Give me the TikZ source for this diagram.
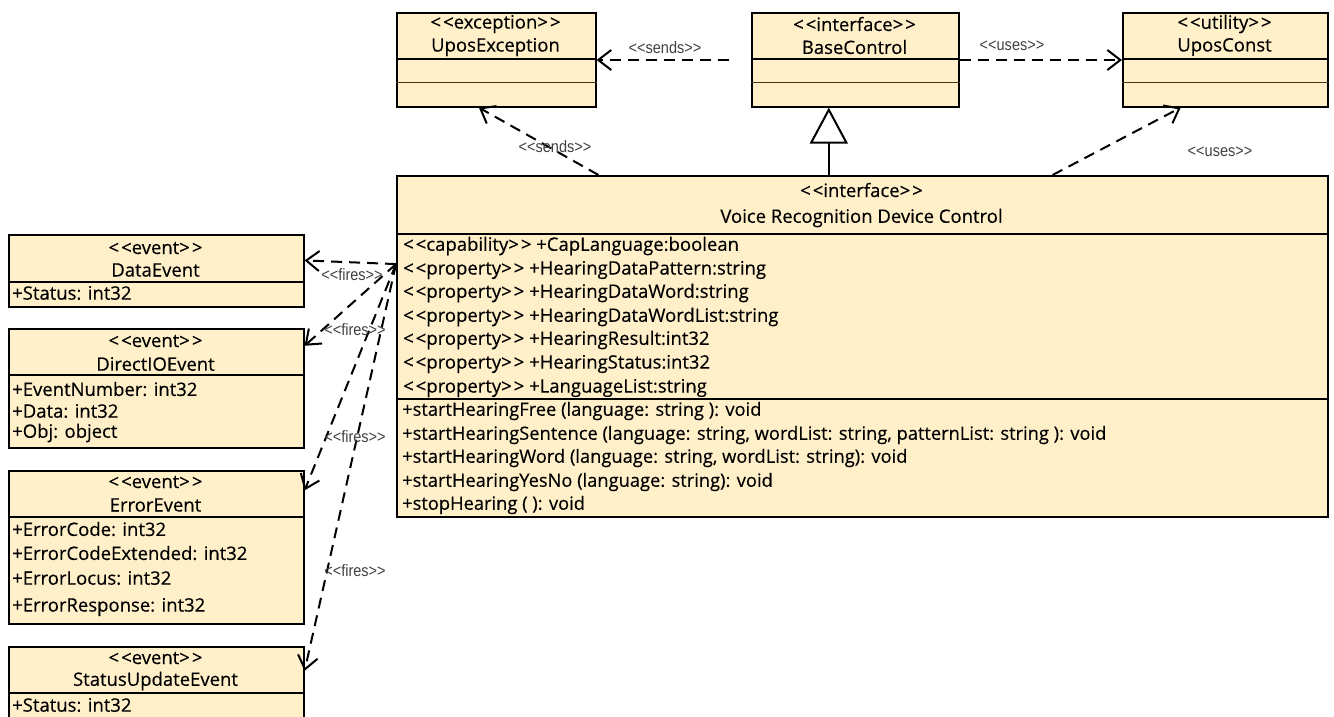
\documentclass[tikz,border=0pt]{standalone}
\usepackage{fontspec}
\setmainfont{Open Sans}[FakeBold=0.35]
\newfontfamily\edgefont{Liberation Sans}[FakeStretch=0.88]
\usetikzlibrary{arrows.meta}
\definecolor{classfill}{RGB}{255,240,201}
\newcommand{\stereo}[1]{<\kern2pt<#1>\kern2pt>}
\newcommand{\edgestereo}[1]{<{}<#1>{}>}
\tikzset{
    classbox/.style={rectangle, draw, line width=1.6pt, fill=classfill, inner sep=0pt, anchor=north west},
    title/.style={inner sep=0pt, font=\fontsize{18.5}{21}\selectfont},
    attr/.style={inner sep=0pt, anchor=west, font=\fontsize{18.5}{21}\selectfont},
    oper/.style={inner sep=0pt, anchor=west, font=\fontsize{18.3}{21}\selectfont},
    sepline/.style={line width=1.1pt},
    lowline/.style={line width=0.9pt, draw=black!60!brown},
    dep/.style={line width=2pt, dash pattern=on 11pt off 7pt, -{Straight Barb[length=13pt,width=20pt]}},
    gen/.style={line width=2pt, -{Triangle[length=36pt,width=38pt,open,fill=white]}},
    elabel/.style={inner sep=0pt, text=black!75, font=\edgefont\fontsize{16.5}{18}\selectfont}
}
\begin{document}
\begin{tikzpicture}[x=1pt,y=-1pt]
        \useasboundingbox (0,0) rectangle (1334,716);
        % top row
        \node (ue) [classbox, minimum width=199pt, minimum height=94pt] at (396,12) {};
        \node (ue1) [title] at (495.5,24) {\stereo{exception}};
        \node (ue2) [title] at (495.5,47) {UposException};
        \draw [sepline] ([yshift=-47pt]ue.north west) -- ([yshift=-47pt]ue.north east);
        \draw [lowline] ([yshift=-70pt]ue.north west) -- ([yshift=-70pt]ue.north east);
        \node (bc) [classbox, minimum width=207pt, minimum height=94pt] at (751,12) {};
        \node (bc1) [title] at (854.5,24) {\stereo{interface}};
        \node (bc2) [title] at (854.5,47) {BaseControl};
        \draw [sepline] ([yshift=-47pt]bc.north west) -- ([yshift=-47pt]bc.north east);
        \draw [lowline] ([yshift=-70pt]bc.north west) -- ([yshift=-70pt]bc.north east);
        \node (uc) [classbox, minimum width=205pt, minimum height=94pt] at (1122,12) {};
        \node (uc1) [title] at (1224.5,24) {\stereo{utility}};
        \node (uc2) [title] at (1224.5,47) {UposConst};
        \draw [sepline] ([yshift=-47pt]uc.north west) -- ([yshift=-47pt]uc.north east);
        \draw [lowline] ([yshift=-70pt]uc.north west) -- ([yshift=-70pt]uc.north east);
        % main interface
        \node (vr) [classbox, minimum width=931pt, minimum height=341pt] at (396,175) {};
        \node (vr1) [title] at (861.5,190) {\stereo{interface}};
        \node (vr2) [title] at (861.5,218) {Voice Recognition Device Control};
        \draw [sepline] ([yshift=-59pt]vr.north west) -- ([yshift=-59pt]vr.north east);
        \draw [sepline] ([yshift=-224pt]vr.north west) -- ([yshift=-224pt]vr.north east);
        \node (a1) [attr] at (403,246) {\stereo{capability} +CapLanguage:boolean};
        \node (a2) [attr] at (403,270) {\stereo{property} +HearingDataPattern:string};
        \node (a3) [attr] at (403,293) {\stereo{property} +HearingDataWord:string};
        \node (a4) [attr] at (403,317) {\stereo{property} +HearingDataWordList:string};
        \node (a5) [attr] at (403,340) {\stereo{property} +HearingResult:int32};
        \node (a6) [attr] at (403,364) {\stereo{property} +HearingStatus:int32};
        \node (a7) [attr] at (403,388) {\stereo{property} +LanguageList:string};
        \node (m1) [oper] at (402,411) {+startHearingFree (language: string ): void};
        \node (m2) [oper] at (402,435) {+startHearingSentence (language: string, wordList: string, patternList: string ): void};
        \node (m3) [oper] at (402,458) {+startHearingWord (language: string, wordList: string): void};
        \node (m4) [oper] at (402,482) {+startHearingYesNo (language: string): void};
        \node (m5) [oper] at (402,505) {+stopHearing ( ): void};
        % events
        \node (de) [classbox, minimum width=295pt, minimum height=72pt] at (8,234) {};
        \node (de1) [title] at (155.5,248) {\stereo{event}};
        \node (de2) [title] at (155.5,270) {DataEvent};
        \draw [sepline] ([yshift=-48pt]de.north west) -- ([yshift=-48pt]de.north east);
        \node (de3) [attr] at (12,293) {+Status: int32};
        \node (dio) [classbox, minimum width=295pt, minimum height=119pt] at (8,328) {};
        \node (dio1) [title] at (155.5,341) {\stereo{event}};
        \node (dio2) [title] at (155.5,364) {DirectIOEvent};
        \draw [sepline] ([yshift=-47pt]dio.north west) -- ([yshift=-47pt]dio.north east);
        \node (dio3) [attr] at (12,389) {+EventNumber: int32};
        \node (dio4) [attr] at (12,411) {+Data: int32};
        \node (dio5) [attr] at (12,433) {+Obj: object};
        \node (ee) [classbox, minimum width=295pt, minimum height=153pt] at (8,470) {};
        \node (ee1) [title] at (155.5,482) {\stereo{event}};
        \node (ee2) [title] at (155.5,505) {ErrorEvent};
        \draw [sepline] ([yshift=-47pt]ee.north west) -- ([yshift=-47pt]ee.north east);
        \node (ee3) [attr] at (12,529) {+ErrorCode: int32};
        \node (ee4) [attr] at (12,553) {+ErrorCodeExtended: int32};
        \node (ee5) [attr] at (12,578) {+ErrorLocus: int32};
        \node (ee6) [attr] at (12,607) {+ErrorResponse: int32};
        \node (su) [classbox, minimum width=295pt, minimum height=74pt] at (8,646) {};
        \node (su1) [title] at (155.5,658) {\stereo{event}};
        \node (su2) [title] at (155.5,681) {StatusUpdateEvent};
        \draw [sepline] ([yshift=-47pt]su.north west) -- ([yshift=-47pt]su.north east);
        \node (su3) [attr] at (12,705) {+Status: int32};
        % connectors
        \draw [gen] ([xshift=-33.5pt]vr.north) -- ([xshift=-26.5pt]bc.south);
        \draw [dep, shorten <=22pt] (bc.west |- 0,60) -- (ue.east |- 0,60);
        \draw [dep] (bc.east |- 0,60) -- (uc.west |- 0,60);
        \draw [dep] (vr.147.2) -- (ue.250);
        \draw [dep] (vr.42.1) -- (uc.227.5);
        \draw [dep] (vr.170) -- (de.4.3);
        \draw [dep] (vr.170) -- (dio.16);
        \draw [dep] (vr.170) -- (ee.21.6);
        \draw [dep] (vr.170) -- (su.5.6);
        \node (l1) [elabel] at (665,48) {\edgestereo{sends}};
        \node (l2) [elabel] at (1012,46) {\edgestereo{uses}};
        \node (l3) [elabel] at (555,147) {\edgestereo{sends}};
        \node (l4) [elabel] at (1220,152) {\edgestereo{uses}};
        \node (l5) [elabel] at (352,275) {\edgestereo{fires}};
        \node (l6) [elabel] at (355,330) {\edgestereo{fires}};
        \node (l7) [elabel] at (355,437) {\edgestereo{fires}};
        \node (l8) [elabel] at (355,571) {\edgestereo{fires}};
\end{tikzpicture}
\end{document}
